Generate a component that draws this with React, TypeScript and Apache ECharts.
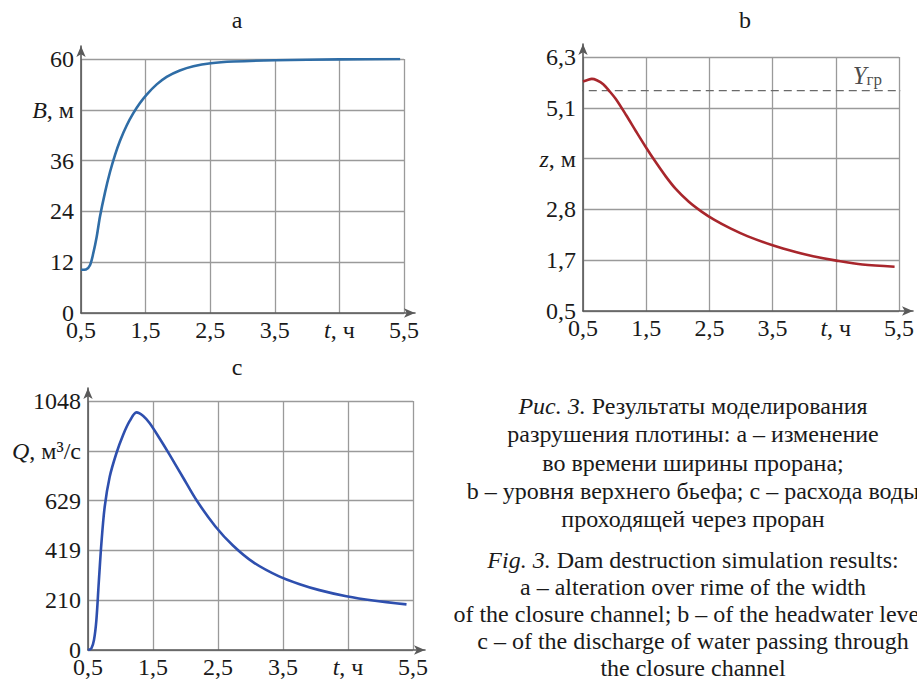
import React, { useEffect, useRef } from 'react';
import * as echarts from 'echarts';

// ---------- data ----------
const xTickLabels = ['0,5', '1,5', '2,5', '3,5', '{i|t}, ч', '5,5'];
const aTickLabels = ['0', '12', '24', '36', '{i|B}, м', '60'];
const bTickLabels = ['0,5', '1,7', '2,8', '{i|z}, м', '5,1', '6,3'];
const cTickLabels = ['0', '210', '419', '629', '{i|Q}, м³/с', '1048'];

// panel a: width of the closure channel B (m)
const aTime = [0.5, 0.577, 0.639, 0.69, 0.743, 0.794, 0.872, 0.949, 1.026, 1.104, 1.207, 1.31, 1.413, 1.517, 1.672, 1.826, 2.03, 2.24, 2.51, 2.86, 3.5, 4.5, 5.44];
const aWidth = [10.2, 10.3, 11.3, 14.1, 18.0, 22.8, 28.5, 33.3, 37.3, 40.7, 44.3, 47.2, 49.6, 51.6, 54.0, 55.8, 57.3, 58.3, 59.0, 59.4, 59.7, 59.9, 60.0];

// panel b: headwater level z (m)
const bTime = [0.5, 0.562, 0.64, 0.718, 0.82, 0.925, 1.03, 1.184, 1.34, 1.495, 1.65, 1.806, 1.96, 2.17, 2.376, 2.58, 2.84, 3.1, 3.5, 3.88, 4.14, 4.51, 4.92, 5.43];
const bLevel = [5.74, 5.77, 5.80, 5.77, 5.68, 5.51, 5.32, 4.97, 4.60, 4.24, 3.90, 3.58, 3.30, 3.00, 2.77, 2.58, 2.38, 2.21, 2.00, 1.84, 1.75, 1.65, 1.56, 1.51];
const yLimit = 5.53; // Y_гр
const yLimitSpan = [0.18, 5.72];
const yLimitLabelAt = 5.0;

// panel c: discharge Q (m3/s)
const cTime = [0.5, 0.552, 0.592, 0.629, 0.665, 0.706, 0.757, 0.834, 0.937, 1.04, 1.142, 1.245, 1.35, 1.45, 1.6, 1.757, 1.96, 2.17, 2.46, 2.73, 3.04, 3.44, 3.757, 4.06, 4.475, 4.885, 5.4];
const cFlow = [0, 7, 42, 126, 281, 449, 603, 729, 828, 905, 964, 1000, 985, 954, 891, 821, 727, 630, 520, 440, 370, 310, 277, 252, 226, 208, 192];

const FONT = 'Liberation Serif, Times New Roman, DejaVu Serif, serif';
const TXT = '#1a1a1a';
const GRID_COLOR = '#9a9a9a';
const AXIS_COLOR = '#5a5a5a';
const FS = 24;

const pairs = (xs: number[], ys: number[]) => xs.map((x, i) => [x, ys[i]]);

export default function App() {
  const ref = useRef<HTMLDivElement>(null);

  useEffect(() => {
    document.body.style.margin = '0';
    const chart = echarts.init(ref.current!, undefined, { renderer: 'svg' });

    const labelStyle = {
      fontFamily: FONT,
      fontSize: FS,
      color: TXT,
      rich: { i: { fontFamily: FONT, fontSize: FS, color: TXT, fontStyle: 'italic' } },
    };

    const innerX = (gridIndex: number) => ({
      type: 'value',
      gridIndex,
      min: 0.5,
      max: 5.5,
      interval: 1,
      axisLine: { show: false },
      axisTick: { show: false },
      splitLine: { show: true, lineStyle: { color: GRID_COLOR, width: 1.3 } },
      axisLabel: {
        ...labelStyle,
        margin: 5,
        formatter: (v: number) => xTickLabels[Math.round(v - 0.5)] ?? '',
      },
    });

    const innerY = (gridIndex: number, min: number, max: number, interval: number, labels: string[]) => ({
      type: 'value',
      gridIndex,
      min,
      max,
      interval,
      axisLine: { show: false },
      axisTick: { show: false },
      splitLine: { show: true, lineStyle: { color: GRID_COLOR, width: 1.3 } },
      axisLabel: {
        ...labelStyle,
        margin: 7,
        formatter: (v: number) => labels[Math.round((v - min) / interval)] ?? '',
      },
    });

    const outerAxis = (gridIndex: number) => ({
      type: 'value',
      gridIndex,
      min: 0,
      max: 1,
      axisLine: {
        show: true,
        symbol: ['none', 'arrow'],
        symbolSize: [7, 11],
        lineStyle: { color: AXIS_COLOR, width: 1.6 },
      },
      axisTick: { show: false },
      axisLabel: { show: false },
      splitLine: { show: false },
    });

    const curve = (xAxisIndex: number, yAxisIndex: number, data: number[][], color: string) => ({
      type: 'line',
      xAxisIndex,
      yAxisIndex,
      data,
      smooth: 0.3,
      symbol: 'none',
      lineStyle: { color, width: 2.6 },
      z: 5,
    });

    const option: any = {
      animation: false,
      backgroundColor: '#ffffff',
      textStyle: { fontFamily: FONT },
      grid: [
        { left: 81, top: 59, width: 323, height: 254 },
        { left: 81, top: 46, width: 334, height: 267 },
        { left: 583, top: 57, width: 321, height: 254 },
        { left: 583, top: 44, width: 330, height: 267 },
        { left: 88, top: 401, width: 325, height: 249 },
        { left: 88, top: 388, width: 337, height: 262 },
      ],
      xAxis: [innerX(0), outerAxis(1), innerX(2), outerAxis(3), innerX(4), outerAxis(5)],
      yAxis: [
        innerY(0, 0, 60, 12, aTickLabels),
        outerAxis(1),
        innerY(2, 0.5, 6.3, 1.16, bTickLabels),
        outerAxis(3),
        innerY(4, 0, 1048, 209.6, cTickLabels),
        outerAxis(5),
      ],
      series: [
        curve(0, 0, pairs(aTime, aWidth), '#2f6da6'),
        curve(2, 2, pairs(bTime, bLevel), '#a8262c'),
        curve(4, 4, pairs(cTime, cFlow), '#2e4fae'),
        {
          type: 'line',
          xAxisIndex: 2,
          yAxisIndex: 2,
          data: yLimitSpan.map((t) => [t, yLimit]),
          clip: false,
          symbol: 'none',
          lineStyle: { color: '#6a6a6a', width: 1.3, type: [8, 5] },
          z: 4,
        },
        {
          type: 'scatter',
          xAxisIndex: 2,
          yAxisIndex: 2,
          data: [[yLimitLabelAt, yLimit]],
          clip: false,
          symbolSize: 0,
          label: {
            show: true,
            position: 'top',
            distance: 3,
            formatter: '{y|Y}{s|гр}',
            rich: {
              y: { fontFamily: FONT, fontSize: 25, fontStyle: 'italic', color: TXT, lineHeight: 26, verticalAlign: 'bottom' },
              s: { fontFamily: FONT, fontSize: 17, color: TXT, lineHeight: 26, verticalAlign: 'bottom', padding: [9, 0, 0, 0] },
            },
          },
        },
      ],
      graphic: [
        { type: 'text', x: 237, y: 20, style: { text: 'a', fontFamily: FONT, fontSize: FS, fill: TXT, align: 'center', verticalAlign: 'middle' } },
        { type: 'text', x: 745, y: 20, style: { text: 'b', fontFamily: FONT, fontSize: FS, fill: TXT, align: 'center', verticalAlign: 'middle' } },
        { type: 'text', x: 237, y: 367, style: { text: 'c', fontFamily: FONT, fontSize: FS, fill: TXT, align: 'center', verticalAlign: 'middle' } },
        {
          type: 'text',
          x: 693,
          y: 392,
          style: {
            text:
              '{i|Рис. 3.} Результаты моделирования\n' +
              'разрушения плотины: a – изменение\n' +
              'во времени ширины прорана;\n' +
              'b – уровня верхнего бьефа; с – расхода воды\n' +
              'проходящей через проран',
            fontFamily: FONT,
            fontSize: FS,
            lineHeight: 28.3,
            fill: TXT,
            align: 'center',
            verticalAlign: 'top',
            rich: { i: { fontFamily: FONT, fontSize: FS, lineHeight: 28.3, fontStyle: 'italic', fill: TXT } },
          },
        },
        {
          type: 'text',
          x: 693,
          y: 546,
          style: {
            text:
              '{i|Fig. 3.} Dam destruction simulation results:\n' +
              'a – alteration over rime of the width\n' +
              'of the closure channel; b – of the headwater level;\n' +
              'c – of the discharge of water passing through\n' +
              'the closure channel',
            fontFamily: FONT,
            fontSize: FS,
            lineHeight: 27,
            fill: TXT,
            align: 'center',
            verticalAlign: 'top',
            rich: { i: { fontFamily: FONT, fontSize: FS, lineHeight: 27, fontStyle: 'italic', fill: TXT } },
          },
        },
      ],
    };

    chart.setOption(option);
    return () => chart.dispose();
  }, []);

  return <div ref={ref} style={{ width: 917, height: 680 }} />;
}
